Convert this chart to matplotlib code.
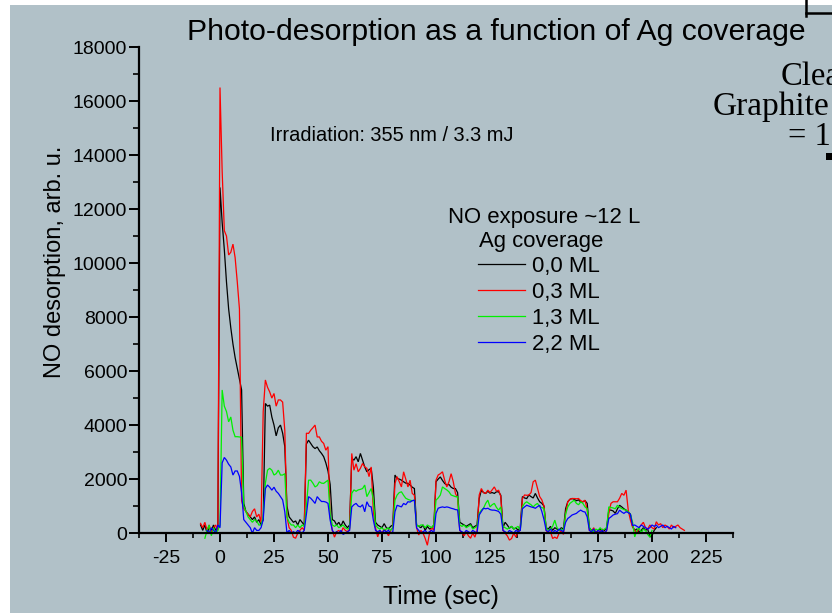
import numpy as np
import matplotlib
matplotlib.use('Agg')
import matplotlib.pyplot as plt
from matplotlib.lines import Line2D
from matplotlib.patches import Rectangle

plt.rcParams['font.family'] = ['Liberation Sans', 'DejaVu Sans']
plt.rcParams['axes.unicode_minus'] = False

# ---------------- data (1 s sampling) ----------------
black_start = -9
black = [300, 100, 300, 0, 200, 100, 300, 100, 200, 12800,
         11500, 10500, 9300, 8300, 7600, 7000, 6500, 6100, 5700, 5300,
         1100, 800, 700, 600, 500, 600, 400, 500, 300, 500,
         4800, 4700, 4740, 4300, 4000, 3600, 3900, 4000, 3700, 3200,
         1000, 600, 500, 400, 450, 300, 500, 400, 300, 3300,
         3440, 3320, 3200, 3130, 3190, 3050, 2950, 2830, 2600, 2300,
         1800, 500, 450, 300, 400, 250, 450, 300, 200, 300,
         2770, 2700, 2830, 2640, 2950, 2700, 2450, 2270, 2350, 2400,
         1700, 400, 300, 250, 200, 350, 200, 150, 250, 300,
         2150, 2020, 2000, 1960, 1900, 1850, 1840, 1780, 1700, 1650,
         300, 250, 200, 300, 100, 250, 150, 200, 300, 1900,
         2000, 2080, 1950, 1840, 1780, 1800, 1700, 1650, 1650, 1500,
         400, 350, 300, 250, 300, 350, 200, 250, 300, 1280,
         1590, 1500, 1470, 1550, 1480, 1500, 1470, 1530, 1530, 1400,
         200, 400, 300, 180, 250, 150, 200, 100, 200, 1350,
         1300, 1280, 1410, 1350, 1300, 1470, 1300, 1160, 1100, 1000,
         200, 150, 250, 100, 200, 150, 100, 200, 150, 900,
         1160, 1250, 1280, 1250, 1200, 1230, 1150, 1160, 1200, 1100,
         200, 100, 150, 0, 100, 150, 50, 100, 200, 850,
         850, 820, 730, 900, 1030, 970, 900, 850, 780, 700,
         250, 100, 150, 50, 100, 200, 100, 150, -140, -100, 100, 200]

red_start = -9
red = [360, 200, 400, 100, 300, 0, 200, 300, 100, 16500,
       13400, 11200, 11000, 10300, 10400, 10700, 10200, 9300, 8300, 1200,
       900, 800, 700, 600, 800, 900, 600, 700, 400, 4500,
       5670, 5400, 5230, 5000, 5170, 4700, 4930, 4930, 4850, 3800,
       600, 200, 100, -150, -190, 0, 100, 200, 100, 3700,
       3690, 3810, 3900, 4000, 3560, 3560, 3400, 3320, 3070, 3200,
       600, 100, -150, 50, 100, 0, 200, 100, 50, 150,
       2950, 2330, 2570, 2270, 2400, 2580, 2450, 2400, 2090, 2450,
       800, 200, -140, 100, 0, 150, 50, -100, 100, 200,
       1840, 2090, 1900, 1710, 2270, 2000, 1710, 1960, 1470, 1400,
       200, -70, 100, 0, -200, -450, 0, 200, 100, 1960,
       2150, 2200, 2270, 1960, 1710, 1900, 2200, 1900, 1470, 1300,
       100, 0, -100, 50, -100, -190, 0, -150, 100, 1410,
       1650, 1500, 1470, 1590, 1500, 1600, 1710, 1550, 1590, 1350,
       100, 0, -100, -260, -200, 0, -150, 50, 100, 1280,
       1410, 1400, 1410, 1500, 1900, 1960, 1650, 1350, 1230, 1000,
       100, 0, 50, -200, -150, -200, 0, 100, -50, 730,
       1160, 1250, 1280, 1280, 1270, 1280, 1200, 1160, 1220, 850,
       100, 50, 200, 0, 100, 50, 150, 0, 100, 730,
       1100, 1160, 1160, 1160, 1290, 1470, 1400, 1590, 850, 480,
       230, 100, 0, 200, 300, 400, 200, 150, 300, 200,
       150, 420, 300, 350, 200, 300, 250, 150, 300, 200, 250, 300, 200, 150, 100]

green_start = -7
green = [-190, 100, 300, -100, 200, 0, 100, 300,
         5300, 4700, 4500, 4120, 4300, 3810, 3570, 3570, 3560, 3550,
         1000, 800, 600, 500, 400, 500, 450, 300, 300, 600,
         1840, 2330, 2400, 2330, 2150, 2200, 2330, 2150, 2150, 2200,
         600, 400, 300, 300, 200, 300, 200, 300, 250, 1000,
         1960, 1960, 1850, 1710, 1760, 1900, 1850, 1840, 1900, 1960,
         700, 300, 250, 300, 200, 250, 300, 200, 150, 200,
         1470, 1600, 1550, 1600, 1620, 1650, 1780, 1350, 1500, 1650,
         1230, 300, 200, 150, 200, 100, 150, 200, 100, 200,
         1220, 1410, 1500, 1530, 1400, 1290, 1250, 1220, 1200, 1220,
         300, 250, 300, 300, 200, 300, 250, 200, 300, 1220,
         1300, 1410, 1710, 1650, 1600, 1530, 1410, 1380, 1350, 1350,
         300, 250, 300, 200, 250, 300, 150, 200, 250, 730,
         850, 920, 1100, 1220, 970, 1050, 1100, 950, 850, 970,
         250, 200, 150, 200, 250, 150, 200, 250, 100, 970,
         1100, 1160, 1100, 1050, 970, 1050, 1100, 970, 950, 900,
         200, 100, 150, 250, 480, 200, 100, 150, 100, 700,
         970, 1100, 1160, 1220, 1100, 1050, 1160, 1100, 970, 900,
         200, 100, 50, 150, 100, 200, 100, 150, 200, 970,
         950, 930, 900, 1030, 950, 910, 870, 850, 790, 700,
         400, -140, 100, 200, 0, 150, 100, -50, -150, 100]

blue_start = -6
blue = [100, 0, 200, 100, 0, 300, 200,
        2600, 2800, 2700, 2550, 2450, 2150, 2300, 2300, 2100, 1500,
        500, 400, 300, 200, 0, 200, 100, 100, 200, 500,
        1650, 1780, 1700, 1590, 1700, 1550, 1470, 1350, 1230, 790,
        0, 100, 0, 50, 0, 100, 50, 0, 100, 700,
        1350, 1290, 1200, 1100, 1350, 1250, 1170, 1170, 1150, 1100,
        480, 100, 0, 50, 0, 100, -50, 0, 50, 100,
        970, 1050, 1100, 1000, 970, 1050, 790, 1160, 1000, 970,
        480, 100, 50, 100, 0, 100, 50, 100, 0, 50,
        790, 1030, 1000, 970, 1100, 1050, 1160, 1150, 1200, 1220,
        200, 100, 0, 50, 100, 0, 50, 100, 0, 730,
        920, 950, 970, 950, 970, 950, 920, 900, 870, 860,
        100, 50, 0, 100, 50, 0, 100, 50, 0, 670,
        800, 920, 900, 920, 870, 850, 850, 830, 800, 700,
        100, 50, 0, 100, 50, 0, 100, 50, 100, 900,
        970, 1030, 1000, 970, 950, 920, 980, 1030, 800, 500,
        100, 50, 150, 0, 100, 50, 150, 100, 50, 400,
        540, 600, 670, 700, 730, 800, 850, 800, 780, 600,
        100, 50, 150, 0, 100, 50, 100, 0, 100, 540,
        600, 670, 700, 720, 850, 780, 730, 790, 760, 700,
        280, 300, 250, 200, 300, 250, 200, 150, 200, 300,
        250, 300, 200, 250, 300, 200, 250, 200, 150, 250, 200]

series_labels = ['0,0 ML', '0,3 ML', '1,3 ML', '2,2 ML']
series_colors = ['#000000', '#ff0000', '#00f000', '#0000ff']
x_major = [-25, 0, 25, 50, 75, 100, 125, 150, 175, 200, 225]
y_major = [0, 2000, 4000, 6000, 8000, 10000, 12000, 14000, 16000, 18000]

# ---------------- figure ----------------
W, H = 832, 613
BG = '#b1c1c8'
fig = plt.figure(figsize=(W / 100, H / 100), dpi=100)
fig.patch.set_facecolor('white')
fig.add_artist(Rectangle((10 / W, 0), 1 - 10 / W, (H - 5) / H,
                         transform=fig.transFigure, facecolor=BG,
                         edgecolor='none', zorder=-10))

ax = fig.add_axes([139 / W, (H - 552) / H, (733 - 139) / W, (552 - 47) / H])
ax.set_facecolor('none')

data = [(black_start, black), (red_start, red), (green_start, green), (blue_start, blue)]
for (start, vals), lab, col in zip(data, series_labels, series_colors):
    t = np.arange(start, start + len(vals))
    ax.plot(t, vals, color=col, lw=0.9, label=lab, solid_joinstyle='miter')

ax.set_xlim(-37.5, 237.5)
ax.set_ylim(-700, 18000)
for s in ['top', 'right']:
    ax.spines[s].set_visible(False)
ax.spines['bottom'].set_position(('data', 0))
ax.spines['left'].set_bounds(0, 18000)
for s in ['bottom', 'left']:
    ax.spines[s].set_linewidth(1.6)

ax.set_xticks(x_major)
ax.set_xticks(sorted(list(np.array(x_major) - 12.5) + [x_major[-1] + 12.5]), minor=True)
ax.set_yticks(y_major)
ax.set_yticks(np.array(y_major[:-1]) + 1000, minor=True)
ax.set_xticklabels([str(v) for v in x_major])
ax.set_yticklabels([str(v) for v in y_major])
ax.tick_params(axis='x', which='major', length=6.5, width=1.4, pad=6, labelsize=14)
ax.tick_params(axis='x', which='minor', length=3.6, width=1.2)
ax.tick_params(axis='y', which='major', length=7.5, width=1.4, pad=1, labelsize=14)
ax.tick_params(axis='y', which='minor', length=4, width=1.2)

fig.text(496.5 / W, 1 - 40 / H, 'Photo-desorption as a function of Ag coverage',
         fontsize=21.7, ha='center', va='baseline')
fig.text(441 / W, 1 - 604 / H, 'Time (sec)', fontsize=17.8, ha='center', va='baseline')
fig.text(55 / W, 1 - 262 / H, 'NO desorption, arb. u.', fontsize=17, rotation=90,
         ha='center', va='center')
fig.text(270 / W, 1 - 141 / H, 'Irradiation: 355 nm / 3.3 mJ', fontsize=14.4,
         ha='left', va='baseline')

# legend
fig.text(544 / W, 1 - 222.5 / H, 'NO exposure ~12 L', fontsize=15.9, ha='center', va='baseline')
fig.text(541 / W, 1 - 247.5 / H, 'Ag coverage', fontsize=15.9, ha='center', va='baseline')
leg = ax.legend(loc='upper left', bbox_to_anchor=(478 / W, 1 - 256 / H),
                bbox_transform=fig.transFigure, frameon=False, fontsize=15.9,
                handlelength=2.15, handletextpad=0.28, labelspacing=0.22,
                borderpad=0, borderaxespad=0)

# cut-off text on the right edge
serif = ['Liberation Serif', 'DejaVu Serif']
fig.text(781 / W, 1 - 85 / H, 'Clea', fontsize=23.5, family=serif, ha='left', va='baseline')
fig.text(713 / W, 1 - 115 / H, 'Graphite', fontsize=24, family=serif, ha='left', va='baseline')
fig.text(788 / W, 1 - 145 / H, '= 1', fontsize=23.5, family=serif, ha='left', va='baseline')
fig.add_artist(Line2D([806 / W, 806 / W], [1, 1 - 16 / H], transform=fig.transFigure,
                      color='black', lw=1.8))
fig.add_artist(Line2D([806 / W, 1], [1 - 13 / H, 1 - 13 / H], transform=fig.transFigure,
                      color='black', lw=1.8))
fig.add_artist(Rectangle((826 / W, 1 - 160 / H), 6 / W, 7 / H, transform=fig.transFigure,
                         facecolor='black', edgecolor='none'))

fig.savefig('out.png', dpi=100, facecolor=fig.get_facecolor())
